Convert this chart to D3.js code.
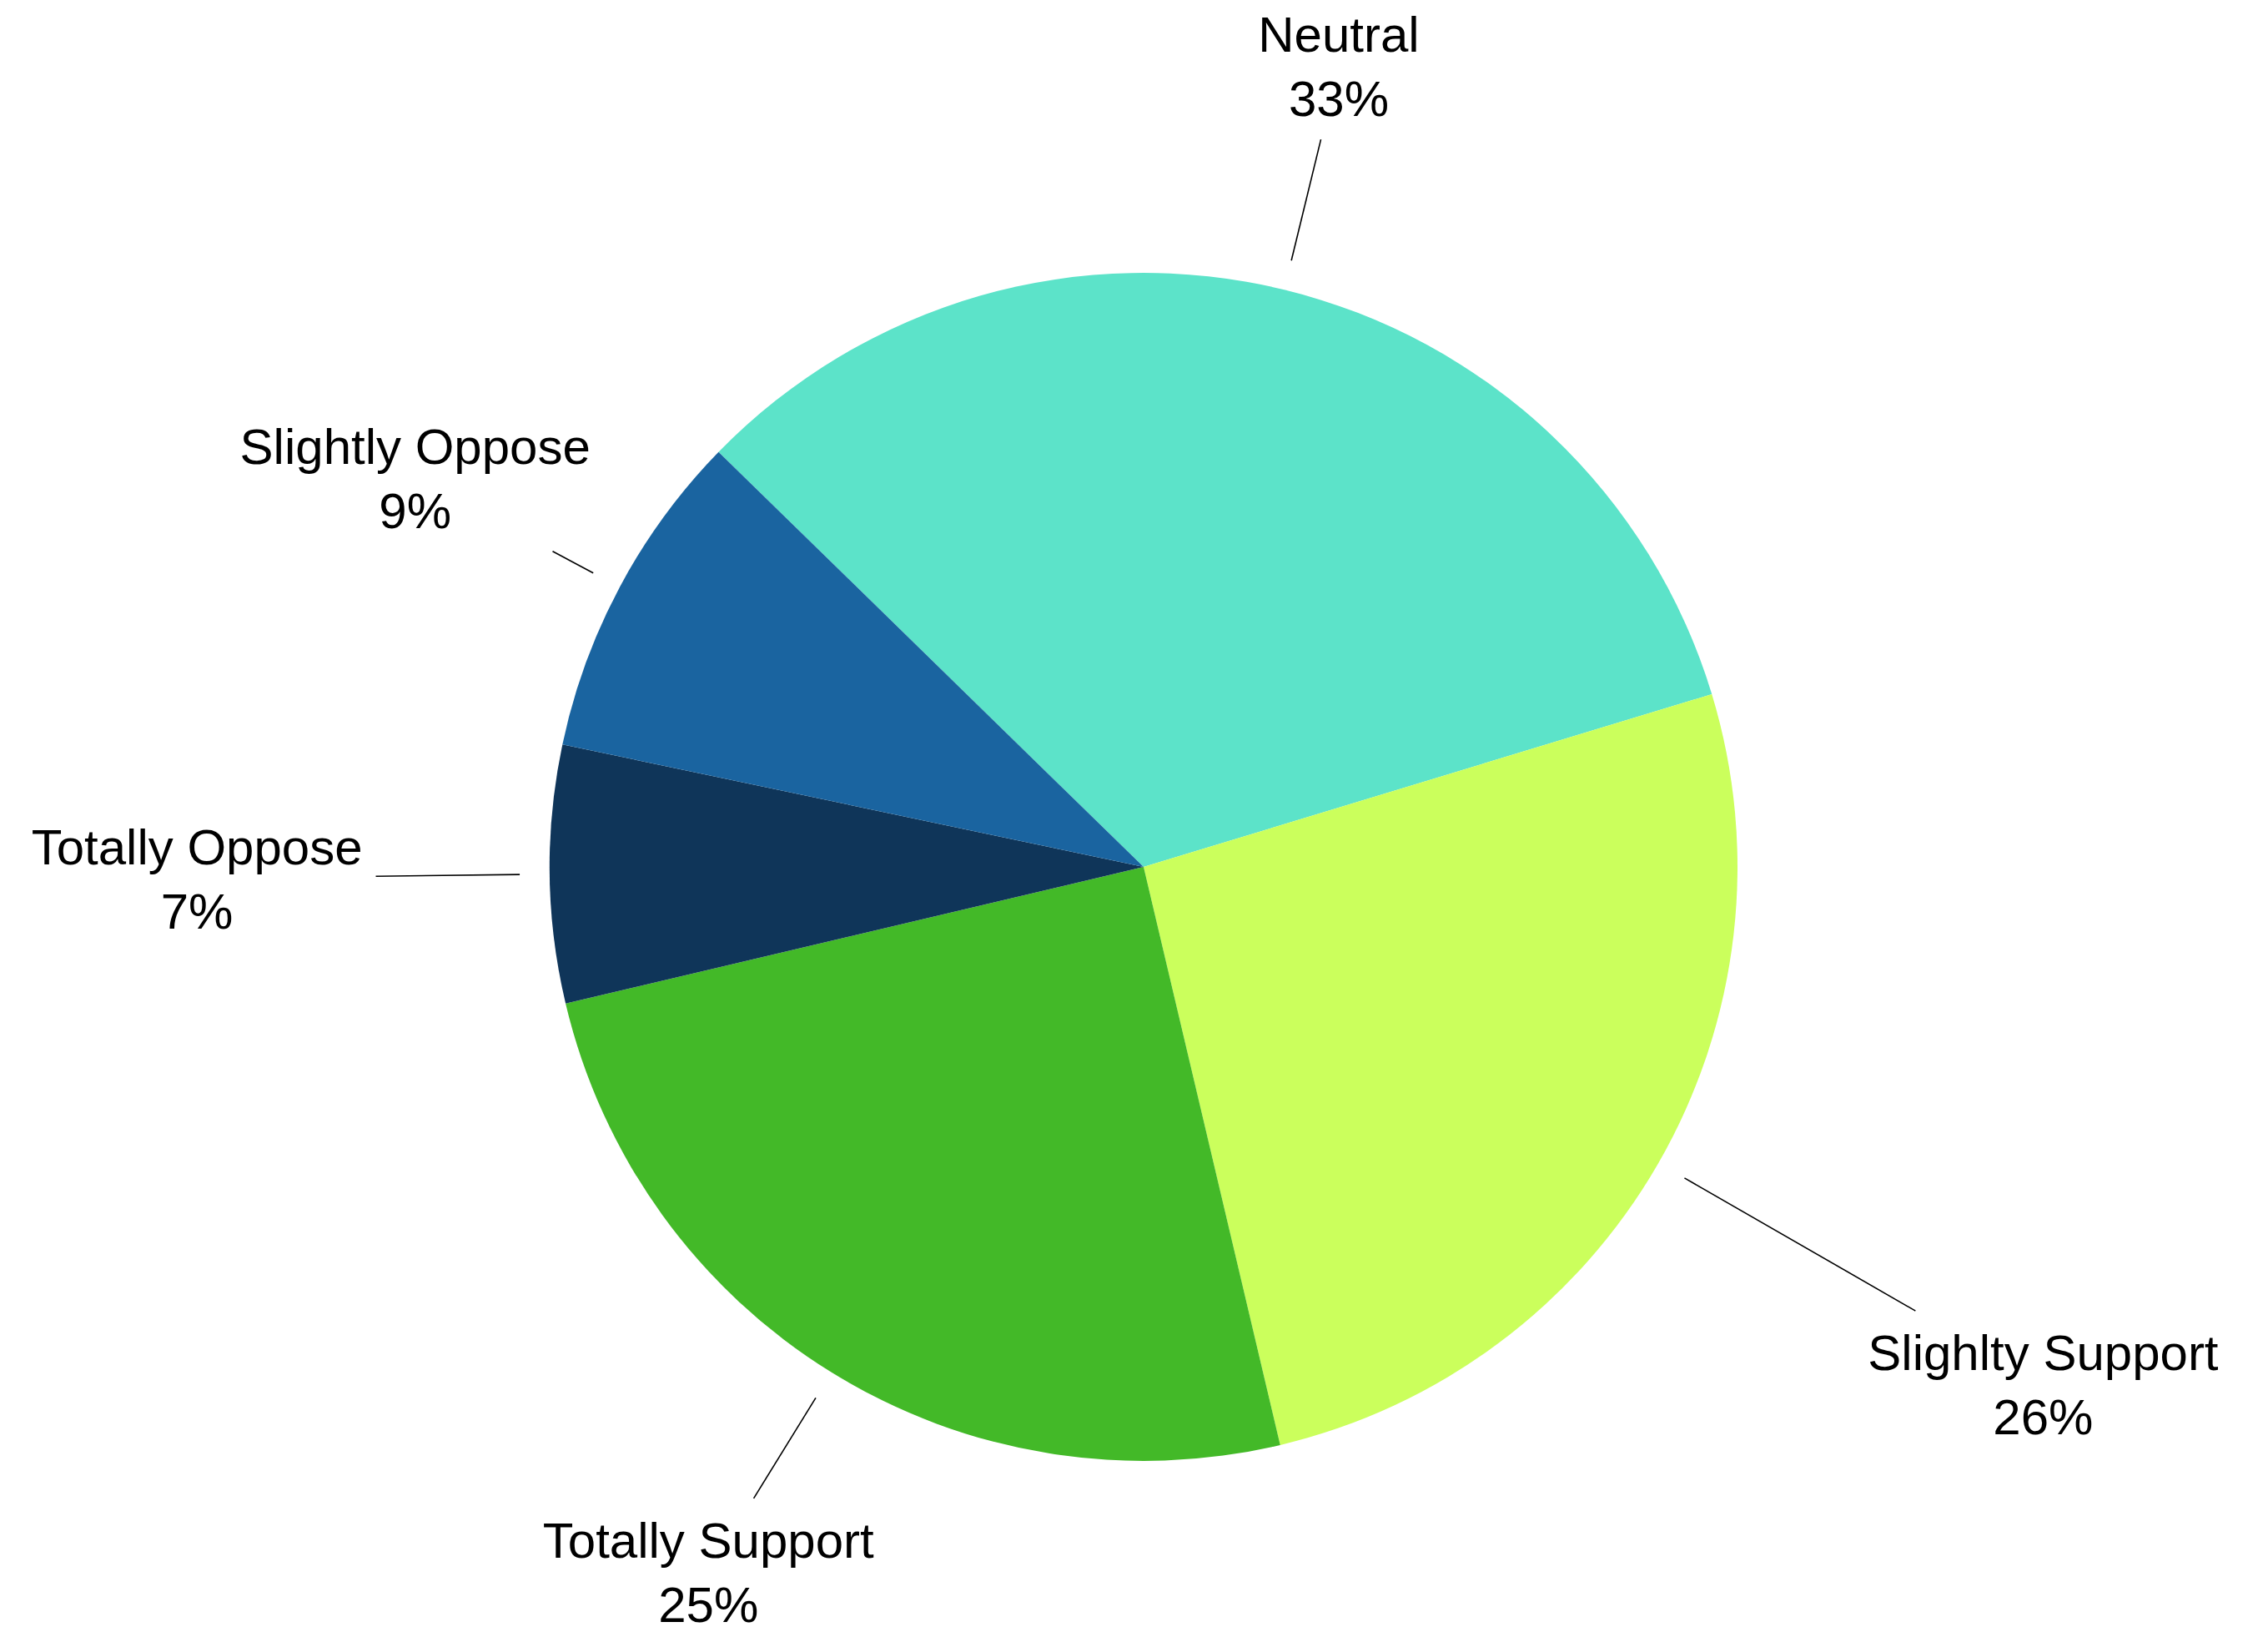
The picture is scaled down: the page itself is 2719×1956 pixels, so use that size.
<!DOCTYPE html>
<html>
<head>
<meta charset="utf-8">
<script src="https://cdn.jsdelivr.net/npm/d3@7"></script>
<style>
  body { margin: 0; background: #fff; }
  text { font-family: "Liberation Sans", Arial, sans-serif; font-size: 60px; fill: #000; }
</style>
</head>
<body>
<script>
// data, clockwise from the Neutral slice
var labels = ["Neutral", "Slighlty Support", "Totally Support", "Totally Oppose", "Slightly Oppose"]
var values = [33, 26, 25, 7, 9]
var colors = ["#5ce3c9", "#cbff5c", "#43b928", "#0f3559", "#1a64a0"]
// how far out each label block sits from the centre (layout only)
var labelDist = [988, 1244, 993, 1135, 990]

var width = 2719, height = 1956
var cx = 1371, cy = 1039, radius = 712
var startA = -45.7 * Math.PI / 180

var svg = d3.select("body").append("svg")
  .attr("width", width)
  .attr("height", height)

var g = svg.append("g").attr("transform", "translate(" + cx + "," + cy + ")")

var dataset = labels.map(function(d, i) { return { label: d, value: values[i], color: colors[i], dist: labelDist[i] } })

var pie = d3.pie()
  .value(function(d) { return d.value })
  .sort(null)
  .startAngle(startA)
  .endAngle(startA + 2 * Math.PI)

var arc = d3.arc().innerRadius(0).outerRadius(radius)
var arcs = pie(dataset)

g.selectAll("path.slice")
  .data(arcs)
  .enter()
  .append("path")
  .attr("class", "slice")
  .attr("d", arc)
  .attr("fill", function(d) { return d.data.color })

var total = d3.sum(values)

arcs.forEach(function(a) {
  var mid = (a.startAngle + a.endAngle) / 2
  var sx = Math.sin(mid), sy = -Math.cos(mid)
  var lx = sx * a.data.dist, ly = sy * a.data.dist

  var lab = g.append("g").attr("class", "label")
  var t1 = lab.append("text").attr("x", lx).attr("y", ly - 17)
    .attr("text-anchor", "middle").text(a.data.label)
  var t2 = lab.append("text").attr("x", lx).attr("y", ly + 60)
    .attr("text-anchor", "middle").text(Math.round(a.data.value / total * 100) + "%")

  var hw = Math.max(t1.node().getComputedTextLength(), t2.node().getComputedTextLength()) / 2 + 16
  var hh = 88
  // where the ray towards the label centre meets the label box
  var tx = Math.abs(sx) > 1e-6 ? hw / Math.abs(sx) : Infinity
  var ty = Math.abs(sy) > 1e-6 ? hh / Math.abs(sy) : Infinity
  var endR = a.data.dist - Math.min(tx, ty)
  var r0 = radius + 36

  g.append("line")
    .attr("x1", sx * r0).attr("y1", sy * r0)
    .attr("x2", sx * endR).attr("y2", sy * endR)
    .attr("stroke", "#000")
    .attr("stroke-width", 1.6)
})
</script>
</body>
</html>
